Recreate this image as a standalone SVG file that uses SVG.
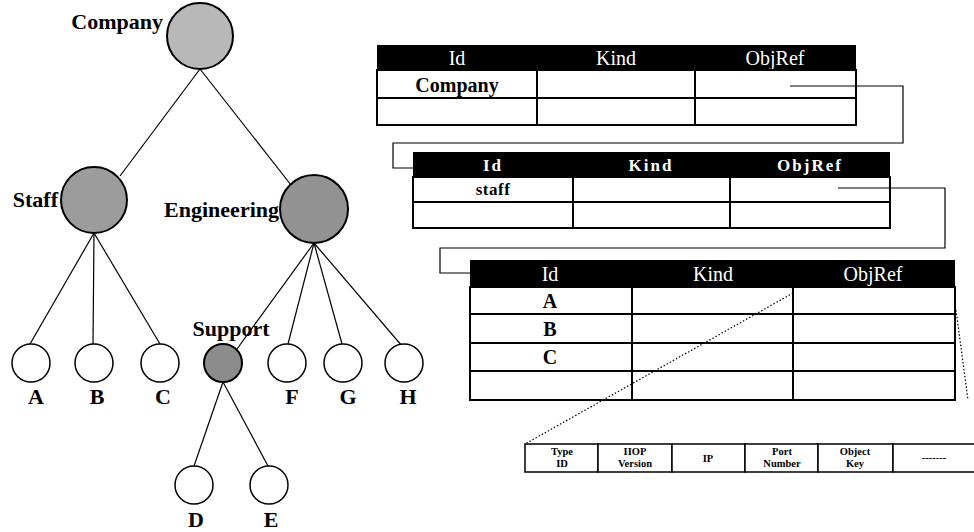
<svg xmlns="http://www.w3.org/2000/svg" width="974" height="532" viewBox="0 0 974 532">
  <style>
    .lbl { font-family: "Liberation Serif", "Times New Roman", serif; font-weight: bold; font-size: 22px; fill: #000; }
    .edge { stroke: #000; stroke-width: 1.2; fill: none; }
    .inner { fill: #9a9a9a; stroke: #000; stroke-width: 2; }
    .leaf { fill: #fff; stroke: #000; stroke-width: 1.5; }
    .hdr { fill: #000; }
    .htxt { font-family: "Liberation Serif", "Times New Roman", serif; font-size: 20px; fill: #fff; text-anchor: middle; }
    .cell { fill: #fff; stroke: #000; stroke-width: 2; }
    .ctxt { font-family: "Liberation Serif", "Times New Roman", serif; font-weight: bold; font-size: 20px; fill: #000; text-anchor: middle; }
    .link { stroke: #000; stroke-width: 1.2; fill: none; }
    .dots { stroke: #000; stroke-width: 1.2; stroke-dasharray: 1.5 2; fill: none; }
    .scell { fill: #fff; stroke: #000; stroke-width: 1.5; }
    .stxt { font-family: "Liberation Serif", "Times New Roman", serif; font-weight: bold; font-size: 10.5px; fill: #000; text-anchor: middle; }
  </style>

  <!-- tree edges -->
  <g id="tree-edges" class="edge">
    <line x1="200" y1="69" x2="120" y2="176"/>
    <line x1="200" y1="69" x2="291" y2="185"/>
    <line x1="94" y1="233" x2="30" y2="344"/>
    <line x1="94" y1="233" x2="93" y2="344"/>
    <line x1="94" y1="233" x2="160" y2="344"/>
    <line x1="314" y1="243" x2="237" y2="349"/>
    <line x1="314" y1="243" x2="288" y2="344"/>
    <line x1="314" y1="243" x2="342" y2="344"/>
    <line x1="314" y1="243" x2="402" y2="346"/>
    <line x1="223" y1="382" x2="194" y2="466"/>
    <line x1="223" y1="382" x2="268" y2="466"/>
  </g>

  <!-- tree nodes -->
  <g id="node-company">
    <circle cx="200" cy="36" r="33" class="inner" style="fill:#b8b8b8"/>
    <text x="163" y="29" class="lbl" text-anchor="end">Company</text>
  </g>
  <g id="node-staff">
    <circle cx="94" cy="200" r="33" class="inner" style="fill:#9c9c9c"/>
    <text x="58" y="207" class="lbl" text-anchor="end">Staff</text>
  </g>
  <g id="node-engineering">
    <circle cx="314" cy="209" r="34" class="inner" style="fill:#929292"/>
    <text x="279" y="217" class="lbl" text-anchor="end">Engineering</text>
  </g>
  <g id="node-support">
    <circle cx="223" cy="363" r="19" class="inner" style="fill:#8c8c8c"/>
    <text x="231" y="336" class="lbl" text-anchor="middle">Support</text>
  </g>
  <g id="node-a">
    <circle cx="31" cy="363" r="19" class="leaf"/>
    <text x="36" y="404" class="lbl" text-anchor="middle">A</text>
  </g>
  <g id="node-b">
    <circle cx="94" cy="363" r="19" class="leaf"/>
    <text x="97" y="404" class="lbl" text-anchor="middle">B</text>
  </g>
  <g id="node-c">
    <circle cx="160" cy="363" r="19" class="leaf"/>
    <text x="163" y="404" class="lbl" text-anchor="middle">C</text>
  </g>
  <g id="node-f">
    <circle cx="287" cy="363" r="19" class="leaf"/>
    <text x="292" y="404" class="lbl" text-anchor="middle">F</text>
  </g>
  <g id="node-g">
    <circle cx="343" cy="363" r="19" class="leaf"/>
    <text x="348" y="404" class="lbl" text-anchor="middle">G</text>
  </g>
  <g id="node-h">
    <circle cx="404" cy="363" r="19" class="leaf"/>
    <text x="408" y="404" class="lbl" text-anchor="middle">H</text>
  </g>
  <g id="node-d">
    <circle cx="194" cy="485" r="19" class="leaf"/>
    <text x="196" y="527" class="lbl" text-anchor="middle">D</text>
  </g>
  <g id="node-e">
    <circle cx="269" cy="485" r="19" class="leaf"/>
    <text x="271" y="527" class="lbl" text-anchor="middle">E</text>
  </g>

  <!-- table: company -->
  <g id="table-company">
    <rect x="377" y="45" width="479" height="25" class="hdr"/>
    <text x="457" y="65" class="htxt">Id</text>
    <text x="616" y="65" class="htxt">Kind</text>
    <text x="775" y="65" class="htxt">ObjRef</text>
    <rect x="377" y="70" width="160" height="28" class="cell"/>
    <rect x="537" y="70" width="158" height="28" class="cell"/>
    <rect x="695" y="70" width="161" height="28" class="cell"/>
    <rect x="377" y="98" width="160" height="27" class="cell"/>
    <rect x="537" y="98" width="158" height="27" class="cell"/>
    <rect x="695" y="98" width="161" height="27" class="cell"/>
    <text x="457" y="92" class="ctxt">Company</text>
  </g>

  <!-- table: staff -->
  <g id="table-staff">
    <rect x="413" y="152" width="477" height="25" class="hdr"/>
    <text x="493" y="171" class="htxt" letter-spacing="2" font-weight="bold" style="font-size:17px">Id</text>
    <text x="651" y="171" class="htxt" letter-spacing="2" font-weight="bold" style="font-size:17px">Kind</text>
    <text x="810" y="171" class="htxt" letter-spacing="2" font-weight="bold" style="font-size:17px">ObjRef</text>
    <rect x="413" y="177" width="160" height="25" class="cell"/>
    <rect x="573" y="177" width="157" height="25" class="cell"/>
    <rect x="730" y="177" width="160" height="25" class="cell"/>
    <rect x="413" y="202" width="160" height="26" class="cell"/>
    <rect x="573" y="202" width="157" height="26" class="cell"/>
    <rect x="730" y="202" width="160" height="26" class="cell"/>
    <text x="493" y="195" class="ctxt" style="font-size:17px" letter-spacing="0.5">staff</text>
  </g>

  <!-- table: engineering members -->
  <g id="table-members">
    <rect x="470" y="260" width="485" height="27" class="hdr"/>
    <text x="550" y="281" class="htxt">Id</text>
    <text x="713" y="281" class="htxt">Kind</text>
    <text x="873" y="281" class="htxt">ObjRef</text>
    <rect x="470" y="287" width="162" height="27" class="cell"/>
    <rect x="632" y="287" width="161" height="27" class="cell"/>
    <rect x="793" y="287" width="162" height="27" class="cell"/>
    <rect x="470" y="314" width="162" height="29" class="cell"/>
    <rect x="632" y="314" width="161" height="29" class="cell"/>
    <rect x="793" y="314" width="162" height="29" class="cell"/>
    <rect x="470" y="343" width="162" height="28" class="cell"/>
    <rect x="632" y="343" width="161" height="28" class="cell"/>
    <rect x="793" y="343" width="162" height="28" class="cell"/>
    <rect x="470" y="371" width="162" height="29" class="cell"/>
    <rect x="632" y="371" width="161" height="29" class="cell"/>
    <rect x="793" y="371" width="162" height="29" class="cell"/>
    <text x="550" y="308" class="ctxt">A</text>
    <text x="550" y="336" class="ctxt">B</text>
    <text x="550" y="364" class="ctxt">C</text>
  </g>

  <!-- table: object reference layout -->
  <g id="table-objref">
    <rect x="525" y="444" width="73" height="28" class="scell"/>
    <rect x="598" y="444" width="74" height="28" class="scell"/>
    <rect x="672" y="444" width="73" height="28" class="scell"/>
    <rect x="745" y="444" width="73" height="28" class="scell"/>
    <rect x="818" y="444" width="75" height="28" class="scell"/>
    <rect x="893" y="444" width="90" height="28" class="scell"/>
    <text x="562" y="455" class="stxt">Type</text>
    <text x="562" y="467" class="stxt">ID</text>
    <text x="635" y="455" class="stxt">IIOP</text>
    <text x="635" y="467" class="stxt">Version</text>
    <text x="708" y="462" class="stxt">IP</text>
    <text x="782" y="455" class="stxt">Port</text>
    <text x="782" y="467" class="stxt">Number</text>
    <text x="855" y="455" class="stxt">Object</text>
    <text x="855" y="467" class="stxt">Key</text>
    <text x="934" y="461" class="stxt">-------</text>
  </g>

  <!-- table links, drawn over the cells they start in -->
  <g id="table-links">
    <polyline class="link" points="790,86 903,86 903,143 393,143 393,168 413,168"/>
    <polyline class="link" points="838,188 945,188 945,248 440,248 440,273 470,273"/>
    <line class="dots" x1="793" y1="293" x2="525" y2="444"/>
    <line class="dots" x1="956" y1="310" x2="968" y2="400"/>
  </g>
</svg>
